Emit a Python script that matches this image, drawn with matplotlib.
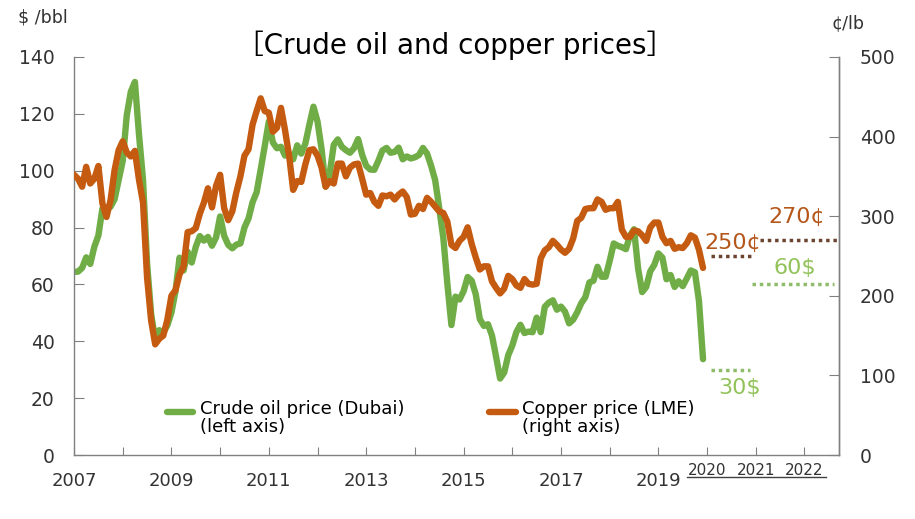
import matplotlib.pyplot as plt
import matplotlib.transforms as mtransforms

# monthly averages, Apr 2007 - Mar 2020
oil_dubai = [
    64.4, 64.5, 65.8, 69.5, 67.2, 73.2, 77.2, 86.7, 86.4,
    87.3, 90.0, 96.7, 103.4, 119.5, 127.8, 131.2, 112.9, 96.8, 67.4, 49.6, 40.5,
    43.9, 43.1, 45.6, 50.1, 57.5, 69.4, 64.9, 71.5, 67.7, 73.2, 77.0, 75.4,
    76.7, 73.6, 76.5, 83.9, 77.1, 73.9, 72.7, 74.0, 74.4, 80.0, 83.2, 88.9,
    92.4, 100.4, 108.7, 117.3, 109.9, 107.9, 108.4, 105.3, 106.0, 104.0, 108.9, 106.0,
    109.5, 116.2, 122.5, 117.3, 107.6, 94.4, 99.0, 109.1, 111.0, 108.4, 107.2, 106.3,
    107.9, 111.1, 105.6, 101.7, 100.4, 100.3, 103.5, 107.1, 108.0, 106.3, 106.6, 108.1,
    104.0, 105.0, 104.3, 104.7, 105.5, 108.0, 106.0, 101.7, 96.6, 86.8, 76.4, 60.2,
    45.7, 55.7, 54.7, 57.6, 62.6, 61.3, 56.5, 47.8, 45.4, 46.0, 42.0, 34.6,
    26.9, 29.0, 35.1, 38.5, 43.2, 45.8, 42.9, 43.4, 43.2, 48.3, 43.2, 52.1,
    53.6, 54.4, 51.1, 52.2, 50.4, 46.3, 47.6, 50.2, 53.4, 55.5, 60.7, 61.3,
    66.2, 62.7, 62.7, 68.3, 74.4, 73.6, 73.1, 72.4, 77.2, 79.4, 65.6, 57.3,
    59.1, 64.6, 66.9, 70.9, 69.4, 61.8, 63.3, 59.1, 61.1, 59.4, 62.1, 64.9,
    64.3, 54.2, 33.7,
]
copper_lme = [
    352, 347, 337, 362, 341, 347, 363, 316, 299,
    320, 358, 383, 394, 380, 375, 382, 346, 317, 223, 169, 139,
    146, 150, 170, 200, 207, 227, 237, 280, 281, 285, 303, 317,
    335, 311, 338, 352, 310, 295, 306, 330, 350, 376, 384, 415,
    432, 448, 432, 430, 406, 411, 436, 408, 376, 333, 344, 343,
    365, 383, 384, 376, 361, 337, 344, 341, 366, 366, 350, 361,
    365, 366, 347, 327, 329, 318, 313, 326, 325, 327, 321, 327,
    331, 324, 302, 303, 313, 309, 323, 318, 312, 306, 304, 293,
    264, 260, 269, 274, 286, 265, 248, 233, 237, 237, 218, 210,
    203, 209, 225, 221, 213, 210, 221, 215, 214, 215, 247, 257,
    261, 269, 264, 258, 254, 259, 272, 294, 298, 309, 310, 310,
    321, 318, 308, 310, 310, 318, 283, 274, 274, 282, 281, 276,
    269, 286, 292, 292, 274, 266, 269, 259, 261, 260, 266, 276,
    273, 258, 235,
]
years = [str(y) for y in range(2007, 2023)]
outlook_years = ["2020", "2021", "2022"]

oil_2020, oil_2021 = 30, 60
cu_2020, cu_2021 = 250, 270

GREEN = "#70ad47"
ORANGE = "#c55a11"
GREEN_TXT = "#92c35a"
BROWN_TXT = "#b5561a"
GRAY = "#808080"

months = list(range(len(oil_dubai)))

fig = plt.figure(figsize=(9.15, 5.19), dpi=100)
ax = fig.add_axes([0.0809, 0.1233, 0.836, 0.767])
ax2 = ax.twinx()

ax.plot(months, oil_dubai, color=GREEN, lw=4.6, solid_capstyle="round")
ax2.plot(months, copper_lme, color=ORANGE, lw=4.6, solid_capstyle="round")

ax.set_xlim(0, 188.5)
ax.set_ylim(0, 140)
ax2.set_ylim(0, 500)
ax.set_yticks(range(0, 141, 20))
ax2.set_yticks(range(0, 501, 100))

ticks = list(range(0, 181, 12))
ax.set_xticks(ticks)
labels = []
for i, t in enumerate(ticks):
    yr = years[i]
    labels.append(yr if (i % 2 == 0 and int(yr) < 2020) else "")
ax.set_xticklabels(labels)

for a in (ax, ax2):
    a.spines["top"].set_visible(False)
    for s in a.spines.values():
        s.set_color(GRAY)
        s.set_linewidth(1.0)
ax2.spines["bottom"].set_visible(False)
ax2.spines["left"].set_visible(False)

ax.tick_params(axis="x", direction="in", length=6, color=GRAY, labelsize=13,
               labelcolor="#333333", pad=12)
ax.tick_params(axis="y", direction="in", length=7, color=GRAY, labelsize=13.5,
               labelcolor="#333333", pad=14)
ax2.tick_params(axis="y", direction="in", length=7, color=GRAY, labelsize=13.5,
                labelcolor="#333333", pad=15)

# outlook years, underlined
xb = mtransforms.blended_transform_factory(ax.transData, ax.transAxes)
for i, yr in enumerate(outlook_years):
    ax.text(156 + 12 * i, -0.040, yr, transform=xb, ha="center", va="center",
            fontsize=11, color="#333333")
ax.plot([151, 185.3], [-0.056, -0.056], transform=xb, color="#404040", lw=1,
        clip_on=False)

# outlook markers
dots = (0, (1, 1.1))
ax2.plot([157, 167], [cu_2020, cu_2020], ls=dots, color="#6b4530", lw=2.5)
ax2.plot([169, 188.3], [cu_2021, cu_2021], ls=dots, color="#6b4530", lw=2.5)
ax.plot([157, 166.5], [oil_2020, oil_2020], ls=dots, color="#8fbc6a", lw=2.5)
ax.plot([167, 187.4], [oil_2021, oil_2021], ls=dots, color="#8fbc6a", lw=2.5)

ax2.text(162.4, 266, f"{cu_2020}¢", color=BROWN_TXT, fontsize=16, ha="center", va="center")
ax2.text(178, 299, f"{cu_2021}¢", color=BROWN_TXT, fontsize=16, ha="center", va="center")
ax.text(164, 23.5, f"{oil_2020}$", color=GREEN_TXT, fontsize=16, ha="center", va="center")
ax.text(177.6, 65.8, f"{oil_2021}$", color=GREEN_TXT, fontsize=16, ha="center", va="center")

# legend
ax2.plot([0.121, 0.156], [0.108, 0.108], transform=ax2.transAxes, color=GREEN,
         lw=4.6, solid_capstyle="round")
ax2.text(0.165, 0.094, "Crude oil price (Dubai)\n(left axis)", transform=ax2.transAxes,
         fontsize=13, va="center", ha="left", linespacing=1.0)
ax2.plot([0.543, 0.578], [0.108, 0.108], transform=ax2.transAxes, color=ORANGE,
         lw=4.6, solid_capstyle="round")
ax2.text(0.586, 0.094, "Copper price (LME)\n(right axis)", transform=ax2.transAxes,
         fontsize=13, va="center", ha="left", linespacing=1.0)

fig.text(0.497, 0.913, "［Crude oil and copper prices］", ha="center", va="center",
         fontsize=20, family=["DejaVu Sans", "Noto Sans CJK JP"])
fig.text(0.020, 0.967, "$ /bbl", ha="left", va="center", fontsize=12.5, color="#333333")
fig.text(0.909, 0.955, "¢/lb", ha="left", va="center", fontsize=12.5, color="#333333")

fig.savefig("out.png", dpi=100)
